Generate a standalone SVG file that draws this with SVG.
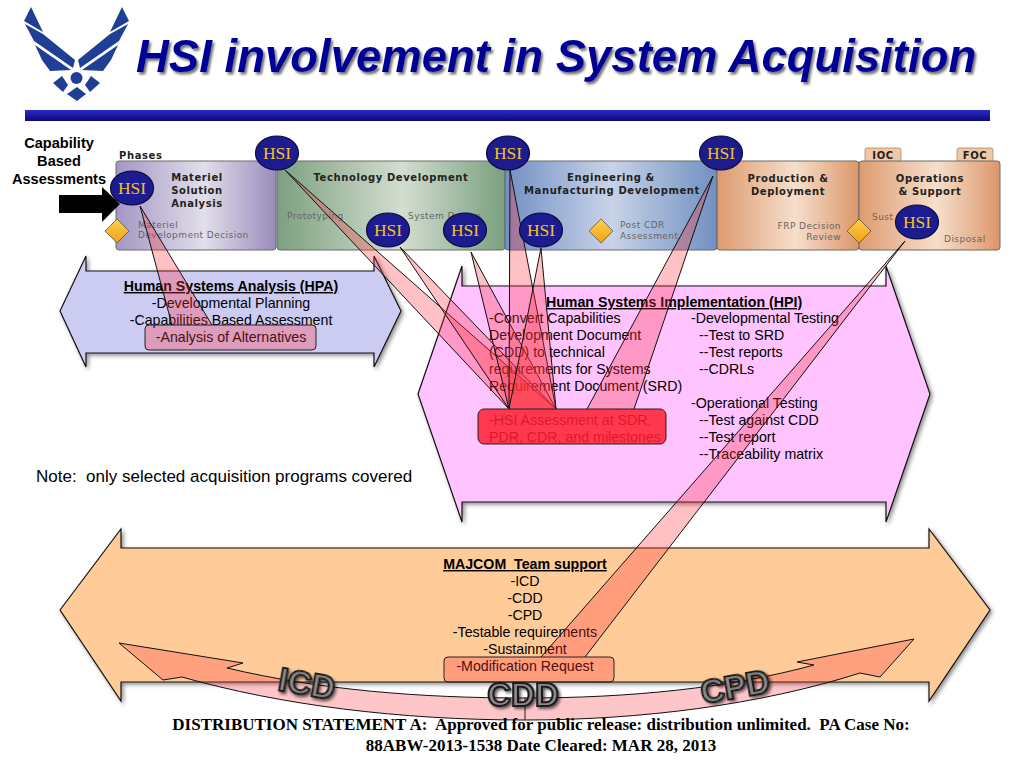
<svg xmlns="http://www.w3.org/2000/svg" width="1024" height="768" viewBox="0 0 1024 768">
<style>
text{font-family:"Liberation Sans",Arial,sans-serif;font-size:14.2px;fill:#000;white-space:pre}
.c{text-anchor:middle}
.b{font-weight:bold}
.u{text-decoration:underline;font-weight:bold}
.ph{stroke:#6b6b6b;stroke-width:1}
.ptitle{font-family:"DejaVu Sans",Verdana,sans-serif;font-weight:bold;font-size:10px;fill:#222;letter-spacing:.6px}
.psub{font-family:"DejaVu Sans",Verdana,sans-serif;font-size:9px;fill:#666;letter-spacing:.45px}
.ar{stroke:#111;stroke-width:1.2;filter:url(#sh)}
.w{fill:#ff323c;fill-opacity:.3;stroke:#111;stroke-width:1}
.box{stroke:#222;stroke-width:1}
.el{fill:#1c1c8e;stroke:#0a0a40;stroke-width:1.2}
.hsi{font-family:"Liberation Serif","Times New Roman",serif;font-size:17.5px;fill:#f3c020;text-anchor:middle}
.dia{fill:url(#gold);stroke:#555;stroke-width:.8}
.big{font-weight:bold;font-size:33px;fill:#8a8a8a;stroke:#1a1a1a;stroke-width:2;text-anchor:middle;filter:url(#sh2)}
.dist{font-family:"Liberation Serif","Times New Roman",serif;font-weight:bold;font-size:17px;text-anchor:middle}
.logo{fill:#1f3f94}
</style>
<defs>
<filter id="sh" x="-10%" y="-10%" width="120%" height="120%"><feDropShadow dx="2" dy="2" stdDeviation="2" flood-color="#000" flood-opacity=".45"/></filter>
<filter id="sh2" x="-20%" y="-20%" width="150%" height="150%"><feDropShadow dx="2" dy="2" stdDeviation="1.5" flood-color="#000" flood-opacity=".6"/></filter>
<filter id="sh3" x="-5%" y="-20%" width="110%" height="150%"><feDropShadow dx="2" dy="2.5" stdDeviation="1.2" flood-color="#555" flood-opacity=".8"/></filter>
<linearGradient id="bar" x1="0" y1="0" x2="0" y2="1"><stop offset="0" stop-color="#2a2acb"/><stop offset="1" stop-color="#0a0a78"/></linearGradient>
<linearGradient id="pu"><stop offset="0" stop-color="#a397c4"/><stop offset=".55" stop-color="#e2deea"/><stop offset="1" stop-color="#9a8cbc"/></linearGradient>
<linearGradient id="gr"><stop offset="0" stop-color="#7da07f"/><stop offset=".55" stop-color="#d3ddd0"/><stop offset="1" stop-color="#79a07e"/></linearGradient>
<linearGradient id="bl"><stop offset="0" stop-color="#7290c4"/><stop offset=".5" stop-color="#c9d3e8"/><stop offset="1" stop-color="#7090c2"/></linearGradient>
<linearGradient id="or"><stop offset="0" stop-color="#dd9a6e"/><stop offset=".55" stop-color="#f6dfcc"/><stop offset="1" stop-color="#dc966a"/></linearGradient>
<linearGradient id="gold" x1="0" y1="0" x2="0" y2="1"><stop offset="0" stop-color="#ffd050"/><stop offset="1" stop-color="#f0a010"/></linearGradient>
</defs>
<rect width="1024" height="768" fill="#fff"/>

<g id="logo">
<polygon class="logo" points="31,7 43,32 24,21"/>
<polygon class="logo" points="25,24 43,34 75,60 73,68 34,41"/>
<polygon class="logo" points="35,45 71,70 50,71 42,60"/>
<polygon class="logo" points="122,7 110,32 129,21"/>
<polygon class="logo" points="128,24 110,34 78,60 80,68 119,41"/>
<polygon class="logo" points="118,45 82,70 103,71 111,60"/>
<circle class="logo" cx="76.5" cy="78" r="6"/>
<polygon class="logo" points="53,83 62,76 68,85 63,92"/>
<polygon class="logo" points="100,83 91,76 85,85 90,92"/>
<polygon class="logo" points="77,87 86,94 77,101 67,94"/>
</g>
<text id="title" x="136" y="72" class="b" style="font-size:45.5px;font-style:italic;fill:#000099;filter:url(#sh3)">HSI involvement in System Acquisition</text>
<rect id="bar" x="25" y="110" width="965" height="11" fill="url(#bar)"/>

<g id="phases">
<text x="119" y="159" class="ptitle">Phases</text>
<g id="phase-msa"><rect class="ph" x="116" y="161" width="160" height="89" rx="3" fill="url(#pu)"/>
<text class="ptitle c" x="197" y="181">Materiel</text><text class="ptitle c" x="197" y="194">Solution</text><text class="ptitle c" x="197" y="207">Analysis</text>
<text class="psub" x="138" y="228">Materiel</text><text class="psub" x="138" y="238">Development Decision</text></g>
<g id="phase-td"><rect class="ph" x="277" y="161" width="228" height="89" rx="3" fill="url(#gr)"/>
<text class="ptitle c" x="391" y="181">Technology Development</text>
<text class="psub" x="287" y="219">Prototyping</text><text class="psub" x="408" y="219">System Design</text></g>
<g id="phase-emd"><rect class="ph" x="505" y="161" width="212" height="89" rx="3" fill="url(#bl)"/>
<text class="ptitle c" x="611" y="181">Engineering &amp;</text><text class="ptitle c" x="612" y="194">Manufacturing Development</text>
<text class="psub" x="620" y="228">Post CDR</text><text class="psub" x="620" y="239">Assessment</text></g>
<g id="phase-pd"><rect class="ph" x="717" y="161" width="142" height="89" rx="3" fill="url(#or)"/>
<text class="ptitle c" x="788" y="182">Production &amp;</text><text class="ptitle c" x="788" y="195">Deployment</text>
<text class="psub" x="841" y="229" text-anchor="end">FRP Decision</text><text class="psub" x="841" y="240" text-anchor="end">Review</text></g>
<g id="phase-os"><rect x="865" y="148" width="36" height="14" rx="2" fill="#f0c8a8" stroke="#a86" stroke-width=".8"/><rect x="957" y="148" width="36" height="14" rx="2" fill="#f0c8a8" stroke="#a86" stroke-width=".8"/>
<text class="ptitle c" x="883" y="159">IOC</text><text class="ptitle c" x="975" y="159">FOC</text>
<rect class="ph" x="859" y="161" width="141" height="89" rx="3" fill="url(#or)"/>
<text class="ptitle c" x="930" y="182">Operations</text><text class="ptitle c" x="930" y="195">&amp; Support</text>
<text class="psub" x="872" y="220">Sust</text><text class="psub" x="944" y="242">Disposal</text></g>
<polygon class="dia" points="117,219 129,231 117,243 105,231"/>
<polygon class="dia" points="601,219 613,231 601,243 589,231"/>
<polygon class="dia" points="859,219 871,231 859,243 847,231"/>
</g>

<g id="cba">
<text class="b c" style="font-size:14.6px" x="59" y="148">Capability</text><text class="b c" style="font-size:14.6px" x="59" y="166">Based</text><text class="b c" style="font-size:14.6px" x="59" y="184">Assessments</text>
<polygon points="59,195 102,195 102,187 120,204 102,222 102,213 59,213" fill="#000"/>
</g>

<g id="hpa">
<polygon class="ar" fill="#ccccf2" points="60,311 86,256 86,271 374,271 374,256 401,311 374,367 374,353 86,353 86,367"/>
<text class="u c" x="231" y="291">Human Systems Analysis (HPA)</text>
<text class="c" x="231" y="308">-Developmental Planning</text>
<text class="c" x="231" y="325">-Capabilities Based Assessment</text>
<text class="c" x="231" y="342">-Analysis of Alternatives</text>
</g>
<g id="hpi">
<polygon class="ar" fill="#ffc4ff" points="418,394 462,266 462,286 886,286 886,266 930,394 886,522 886,502 462,502 462,522"/>
<text class="u c" x="674" y="307">Human Systems Implementation (HPI)</text>
<text x="489" y="323">-Convert Capabilities</text>
<text x="489" y="340">Development Document</text>
<text x="489" y="357">(CDD) to technical</text>
<text x="489" y="374">requirements for Systems</text>
<text x="489" y="391">Requirement Document (SRD)</text>
<text x="691" y="323">-Developmental Testing</text>
<text x="699" y="340">--Test to SRD</text>
<text x="699" y="357">--Test reports</text>
<text x="699" y="374">--CDRLs</text>
<text x="691" y="408">-Operational Testing</text>
<text x="699" y="425">--Test against CDD</text>
<text x="699" y="442">--Test report</text>
<text x="699" y="459">--Traceability matrix</text>
<text x="489" y="425">-HSI Assessment at SDR,</text>
<text x="489" y="442">PDR, CDR, and milestones</text>
</g>
<text id="note" x="36" y="482" style="font-size:17px">Note:  only selected acquisition programs covered</text>
<g id="majcom">
<polygon class="ar" fill="#ffcc99" points="60,610 121,529 121,548 929,548 929,529 990,610 929,701 929,682 121,682 121,701"/>
<text class="u c" x="525" y="569">MAJCOM  Team support</text>
<text class="c" x="525" y="586">-ICD</text>
<text class="c" x="525" y="603">-CDD</text>
<text class="c" x="525" y="620">-CPD</text>
<text class="c" x="525" y="637">-Testable requirements</text>
<text class="c" x="525" y="654">-Sustainment</text>
<text class="c" x="525" y="671">-Modification Request</text>
</g>

<g id="connectors">
<path class="w" d="M172,325 L140,206 L212,325"/>
<path class="w" d="M509,409 L285,170 L556,409"/>
<path class="w" d="M509,409 L400,247 L556,409"/>
<path class="w" d="M509,409 L471,252 L556,409"/>
<path class="w" d="M509,409 L510,170 L556,409"/>
<path class="w" d="M509,409 L541,248 L556,409"/>
<path class="w" d="M587,409 L713,176 L634,409"/>
<path class="w" d="M541,657 L905,241 L585,657"/>
</g>
<g id="boxes">
<rect id="box-aoa" class="box" x="145" y="325" width="171" height="25" rx="4" fill="#ff323c" fill-opacity=".3"/>
<rect id="box-hsi" class="box" x="478" y="409" width="188" height="35" rx="6" fill="#ff2030" fill-opacity=".85"/>
<rect id="box-mod" class="box" x="444" y="657" width="170" height="25" rx="4" fill="#ff323c" fill-opacity=".3"/>
</g>

<g id="curve">
<path d="M119,643 L243,663 L227,668 C320,690 420,698 525,698 C630,698 730,688 814,665 L797,662 L914,639 L880,677 L860,673 C760,705 640,720 525,720 C400,720 280,705 182,677 L163,680 Z" fill="#ff323c" fill-opacity=".28" stroke="#111" stroke-width="1"/>
<line x1="525" y1="697" x2="525" y2="720" stroke="#222" stroke-width="1"/>
</g>

<g id="hsi1"><ellipse class="el" cx="132" cy="188" rx="21.5" ry="17"/><text class="hsi" x="132" y="194">HSI</text></g>
<g id="hsi2"><ellipse class="el" cx="277" cy="153" rx="21.5" ry="17"/><text class="hsi" x="277" y="159">HSI</text></g>
<g id="hsi3"><ellipse class="el" cx="388" cy="230" rx="21.5" ry="17"/><text class="hsi" x="388" y="236">HSI</text></g>
<g id="hsi4"><ellipse class="el" cx="465" cy="230" rx="21.5" ry="17"/><text class="hsi" x="465" y="236">HSI</text></g>
<g id="hsi5"><ellipse class="el" cx="508" cy="153" rx="21.5" ry="17"/><text class="hsi" x="508" y="159">HSI</text></g>
<g id="hsi6"><ellipse class="el" cx="541" cy="230" rx="21.5" ry="17"/><text class="hsi" x="541" y="236">HSI</text></g>
<g id="hsi7"><ellipse class="el" cx="721" cy="153" rx="21.5" ry="17"/><text class="hsi" x="721" y="159">HSI</text></g>
<g id="hsi8"><ellipse class="el" cx="917" cy="222" rx="21.5" ry="17"/><text class="hsi" x="917" y="228">HSI</text></g>

<g id="labels">
<text class="big" transform="translate(305,695) rotate(10)">ICD</text>
<text class="big" transform="translate(523,706)">CDD</text>
<text class="big" transform="translate(737,698) rotate(-10)">CPD</text>
</g>
<g id="distribution">
<text class="dist" x="541" y="730">DISTRIBUTION STATEMENT A:  Approved for public release: distribution unlimited.  PA Case No:</text>
<text class="dist" x="541" y="751">88ABW-2013-1538 Date Cleared: MAR 28, 2013</text>
</g>
</svg>
